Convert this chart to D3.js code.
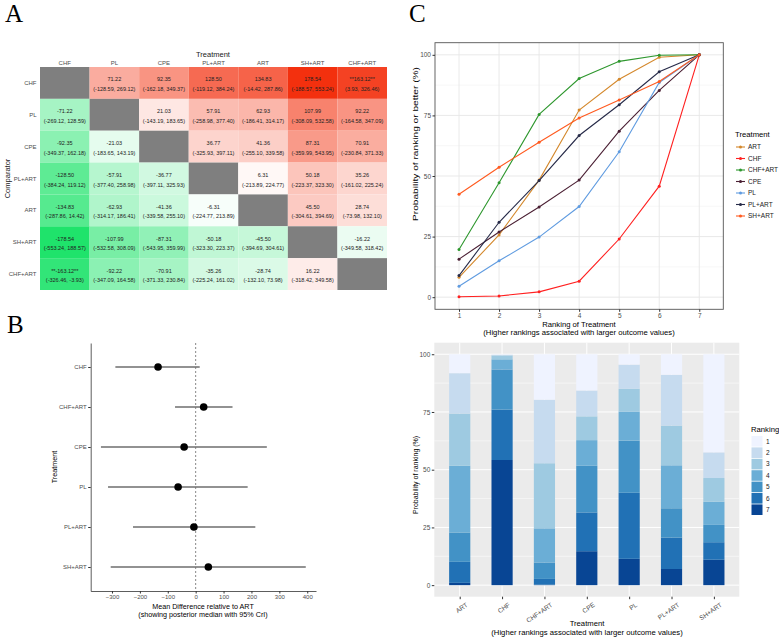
<!DOCTYPE html>
<html>
<head>
<meta charset="utf-8">
<script src="https://cdn.jsdelivr.net/npm/d3@7"></script>
<style>
  body { margin: 0; background: #fff; }
  text { font-family: "Liberation Sans", Arial, sans-serif; }
</style>
</head>
<body>
<svg id="fig" width="779" height="639"></svg>
<script>
// ---- Panel A: league table (row = comparator, column = treatment)
const trtA = ["CHF", "PL", "CPE", "PL+ART", "ART", "SH+ART", "CHF+ART"];
const mdMean = [
  [null, 71.22, 92.35, 128.50, 134.83, 178.54, 163.12],
  [-71.22, null, 21.03, 57.91, 62.93, 107.99, 92.22],
  [-92.35, -21.03, null, 36.77, 41.36, 87.31, 70.91],
  [-128.50, -57.91, -36.77, null, 6.31, 50.18, 35.26],
  [-134.83, -62.93, -41.36, -6.31, null, 45.50, 28.74],
  [-178.54, -107.99, -87.31, -50.18, -45.50, null, -16.22],
  [-163.12, -92.22, -70.91, -35.26, -28.74, 16.22, null]
];
const mdLow = [
  [null, -128.59, -162.18, -119.12, -14.42, -188.57, 3.93],
  [-269.12, null, -143.19, -258.98, -186.41, -308.09, -164.58],
  [-349.37, -183.65, null, -325.93, -255.10, -359.99, -230.84],
  [-384.24, -377.40, -397.11, null, -213.89, -223.37, -161.02],
  [-287.86, -314.17, -339.58, -224.77, null, -304.61, -73.98],
  [-553.24, -532.58, -543.95, -323.30, -394.69, null, -349.58],
  [-326.46, -347.09, -371.33, -225.24, -132.10, -318.42, null]
];
const mdHigh = [
  [null, 269.12, 349.37, 384.24, 287.86, 553.24, 326.46],
  [128.59, null, 183.65, 377.40, 314.17, 532.58, 347.09],
  [162.18, 143.19, null, 397.11, 339.58, 543.95, 371.33],
  [119.12, 258.98, 325.93, null, 224.77, 323.30, 225.24],
  [14.42, 186.41, 255.10, 213.89, null, 394.69, 132.10],
  [188.57, 308.09, 359.99, 223.37, 304.61, null, 318.42],
  [-3.93, 164.58, 230.84, 161.02, 73.98, 349.58, null]
];

// ---- Panel B: forest plot relative to ART
const forestTrt = ["CHF", "CHF+ART", "CPE", "PL", "PL+ART", "SH+ART"];
const forestMed = [-134.83, 28.74, -41.36, -62.93, -6.31, 45.50];
const forestLow = [-287.86, -73.98, -339.58, -314.17, -224.77, -304.61];
const forestHigh = [14.42, 132.10, 255.10, 186.41, 213.89, 394.69];

// ---- Panel C: rank probabilities (%) for ranks 1..7
const rankTrt = ["ART", "CHF", "CHF+ART", "CPE", "PL", "PL+ART", "SH+ART"];
const ranks = [1, 2, 3, 4, 5, 6, 7];
const probART = [8.2, 17.5, 22.6, 28.9, 12.7, 9.1, 1.0];
const probCHF = [0.2, 0.3, 1.7, 4.4, 17.4, 21.8, 54.2];
const probCHFART = [19.7, 27.5, 28.2, 14.8, 7.1, 2.5, 0.2];
const probCPE = [15.7, 11.2, 10.3, 11.1, 20.2, 16.8, 14.7];
const probPL = [4.5, 10.5, 9.8, 12.6, 22.6, 28.6, 11.4];
const probPLART = [8.9, 22.0, 17.2, 18.6, 12.7, 13.6, 7.0];
const probSHART = [42.5, 11.1, 10.3, 10.0, 7.5, 7.6, 11.0];
const yTicksPct = [0, 25, 50, 75, 100];

const trtColors = ["#d4882c", "#ff2020", "#2e972e", "#4a1f33", "#5f9be0", "#262a48", "#ff5a1f"];
const rankColors = ["#eff3ff", "#c6dbef", "#9ecae1", "#6baed6", "#4292c6", "#2171b5", "#084594"];

const probs = [probART, probCHF, probCHFART, probCPE, probPL, probPLART, probSHART];

const svg = d3.select("#fig");
const grey = "#4d4d4d";

// panel letters
[["A", 5, 22], ["B", 7, 333], ["C", 409, 22]].forEach(([t, x, y]) => {
  svg.append("text").attr("x", x).attr("y", y).text(t)
    .style("font-family", "'Liberation Serif', 'Times New Roman', serif")
    .style("font-size", "25px");
});

// ================= Panel A =================
const ax = d3.scaleBand().domain(trtA).range([40, 387]);
const ay = d3.scaleBand().domain(trtA).range([67, 290]);
const heat = d3.scaleLinear().domain([-178.54, 0, 178.54])
  .range(["#1fe36b", "#ffffff", "#f3300e"]);

const cells = [];
trtA.forEach((r, i) => trtA.forEach((c, j) => {
  cells.push({ r, c, m: mdMean[i][j], lo: mdLow[i][j], hi: mdHigh[i][j] });
}));

const gA = svg.append("g");
gA.selectAll("rect").data(cells).enter().append("rect")
  .attr("x", d => ax(d.c))
  .attr("y", d => ay(d.r))
  .attr("width", ax.bandwidth())
  .attr("height", ay.bandwidth())
  .attr("fill", d => d.m === null ? "#7f7f7f" : heat(d.m));

const txt = cells.filter(d => d.m !== null);
gA.selectAll("text.m").data(txt).enter().append("text")
  .attr("class", "m")
  .attr("x", d => ax(d.c) + ax.bandwidth() / 2)
  .attr("y", d => ay(d.r) + ay.bandwidth() / 2 - 1.5)
  .attr("text-anchor", "middle")
  .style("font-size", "5.5px").attr("fill", "#222")
  .text(d => {
    const s = d.m.toFixed(2);
    return (d.lo > 0 || d.hi < 0) ? "**" + s + "**" : s;
  });
gA.selectAll("text.ci").data(txt).enter().append("text")
  .attr("class", "ci")
  .attr("x", d => ax(d.c) + ax.bandwidth() / 2)
  .attr("y", d => ay(d.r) + ay.bandwidth() / 2 + 8)
  .attr("text-anchor", "middle")
  .style("font-size", "5.5px").attr("fill", "#222")
  .text(d => `(${d.lo.toFixed(2)}, ${d.hi.toFixed(2)})`);

// column headers
gA.selectAll("text.col").data(trtA).enter().append("text")
  .attr("x", d => ax(d) + ax.bandwidth() / 2)
  .attr("y", 64.5)
  .attr("text-anchor", "middle")
  .style("font-size", "6px").attr("fill", grey)
  .text(d => d);
// row labels
gA.selectAll("text.row").data(trtA).enter().append("text")
  .attr("x", 36.5)
  .attr("y", d => ay(d) + ay.bandwidth() / 2 + 2)
  .attr("text-anchor", "end")
  .style("font-size", "6px").attr("fill", grey)
  .text(d => d);
gA.append("text").attr("x", 213).attr("y", 57).attr("text-anchor", "middle")
  .style("font-size", "7.5px").attr("fill", "#222").text("Treatment");
gA.append("text").attr("transform", "translate(10,178.5) rotate(-90)")
  .attr("text-anchor", "middle")
  .style("font-size", "7.5px").attr("fill", "#222").text("Comparator");

// ================= Panel B =================
const bMin = d3.min(forestLow), bMax = d3.max(forestHigh);
const bPad = (bMax - bMin) * 0.05;
const bx = d3.scaleLinear().domain([bMin - bPad, bMax + bPad]).range([90.7, 316]);
const by = d3.scalePoint().domain(forestTrt).range([343, 591]).padding(0.6);

const gB = svg.append("g");
const forest = forestTrt.map((t, i) => ({ t, med: forestMed[i], lo: forestLow[i], hi: forestHigh[i] }));

gB.append("line")
  .attr("x1", bx(0)).attr("x2", bx(0)).attr("y1", 343).attr("y2", 591)
  .attr("stroke", "#888").attr("stroke-width", 1).attr("stroke-dasharray", "2,2");

gB.selectAll("line.ci").data(forest).enter().append("line")
  .attr("x1", d => bx(d.lo)).attr("x2", d => bx(d.hi))
  .attr("y1", d => by(d.t)).attr("y2", d => by(d.t))
  .attr("stroke", "#6e6e6e").attr("stroke-width", 1.3);
gB.selectAll("circle").data(forest).enter().append("circle")
  .attr("cx", d => bx(d.med)).attr("cy", d => by(d.t)).attr("r", 3.8)
  .attr("fill", "#000");

const bxAxis = gB.append("g").attr("transform", "translate(0,591)")
  .call(d3.axisBottom(bx).tickValues(d3.range(-300, 401, 100)).tickSize(2.5).tickPadding(1.5).tickSizeOuter(0));
const byAxis = gB.append("g").attr("transform", "translate(90.7,0)")
  .call(d3.axisLeft(by).tickSize(2.5).tickPadding(1.5).tickSizeOuter(0));
[bxAxis, byAxis].forEach(a => {
  a.select(".domain").attr("stroke", "#333").attr("stroke-width", 0.8);
  a.selectAll(".tick line").attr("stroke", "#333");
  a.selectAll(".tick text").style("font-size", "6px").attr("fill", grey)
    .style("font-family", "'Liberation Sans', Arial, sans-serif");
});

gB.append("text").attr("x", 203).attr("y", 608.5).attr("text-anchor", "middle")
  .style("font-size", "7.2px").text("Mean Difference relative to ART");
gB.append("text").attr("x", 203).attr("y", 617).attr("text-anchor", "middle")
  .style("font-size", "7.2px").text("(showing posterior median with 95% CrI)");
gB.append("text").attr("transform", "translate(57,467) rotate(-90)")
  .attr("text-anchor", "middle").style("font-size", "7.2px").text("Treatment");

// ================= Panel C (top): cumulative ranking =================
const cx = d3.scaleLinear().domain([0.4, 7.6]).range([435, 723.3]);
const cy = d3.scaleLinear().domain([-5, 105]).range([309.3, 42.7]);
const gC = svg.append("g");

gC.append("rect").attr("x", 435).attr("y", 42.7).attr("width", 288.3).attr("height", 266.6)
  .attr("fill", "#fff");
// minor grid
gC.selectAll("line.minor").data([12.5, 37.5, 62.5, 87.5]).enter().append("line")
  .attr("x1", 435).attr("x2", 723.3).attr("y1", d => cy(d)).attr("y2", d => cy(d))
  .attr("stroke", "#f2f2f2").attr("stroke-width", 0.6);
gC.selectAll("line.hmaj").data(yTicksPct).enter().append("line")
  .attr("x1", 435).attr("x2", 723.3).attr("y1", d => cy(d)).attr("y2", d => cy(d))
  .attr("stroke", "#e6e6e6").attr("stroke-width", 0.9);
gC.selectAll("line.vmaj").data(ranks).enter().append("line")
  .attr("y1", 42.7).attr("y2", 309.3).attr("x1", d => cx(d)).attr("x2", d => cx(d))
  .attr("stroke", "#e6e6e6").attr("stroke-width", 0.9);

const cumSeries = rankTrt.map((t, i) => ({
  t, color: trtColors[i],
  vals: Array.from(d3.cumsum(probs[i])).map((v, k) => ({ r: ranks[k], v: Math.min(v, 100) }))
}));
const line = d3.line().x(d => cx(d.r)).y(d => cy(d.v));
const sg = gC.selectAll("g.series").data(cumSeries).enter().append("g");
sg.append("path").attr("d", d => line(d.vals)).attr("fill", "none")
  .attr("stroke", d => d.color).attr("stroke-width", 1.1);
sg.selectAll("circle").data(d => d.vals.map(v => ({ ...v, color: d.color }))).enter()
  .append("circle").attr("cx", d => cx(d.r)).attr("cy", d => cy(d.v)).attr("r", 1.5)
  .attr("fill", d => d.color);

gC.append("rect").attr("x", 435).attr("y", 42.7).attr("width", 288.3).attr("height", 266.6)
  .attr("fill", "none").attr("stroke", "#555").attr("stroke-width", 0.9);

const cxAxis = gC.append("g").attr("transform", "translate(0,309.3)")
  .call(d3.axisBottom(cx).tickValues(ranks).tickSize(2.5).tickPadding(1.5).tickSizeOuter(0));
const cyAxis = gC.append("g").attr("transform", "translate(435,0)")
  .call(d3.axisLeft(cy).tickValues(yTicksPct).tickSize(2.5).tickPadding(1.5).tickSizeOuter(0));
[cxAxis, cyAxis].forEach(a => {
  a.select(".domain").remove();
  a.selectAll(".tick line").attr("stroke", "#333");
  a.selectAll(".tick text").style("font-size", "6.5px").attr("fill", grey)
    .style("font-family", "'Liberation Sans', Arial, sans-serif");
});

gC.append("text").attr("x", 579).attr("y", 326.5).attr("text-anchor", "middle")
  .style("font-size", "7.7px").text("Ranking of Treatment");
gC.append("text").attr("x", 579).attr("y", 335.3).attr("text-anchor", "middle")
  .style("font-size", "7.7px").text("(Higher rankings associated with larger outcome values)");
gC.append("text").attr("transform", "translate(418,144) rotate(-90)")
  .attr("text-anchor", "middle").style("font-size", "8px")
  .attr("textLength", 154).attr("lengthAdjust", "spacingAndGlyphs")
  .text("Probability of ranking or better (%)");

// legend
const lg = gC.append("g");
lg.append("text").attr("x", 735).attr("y", 137).style("font-size", "7.7px").text("Treatment");
cumSeries.forEach((s, i) => {
  const y = 147 + i * 11.5;
  lg.append("line").attr("x1", 736).attr("x2", 745).attr("y1", y).attr("y2", y)
    .attr("stroke", s.color).attr("stroke-width", 1.1);
  lg.append("circle").attr("cx", 740.5).attr("cy", y).attr("r", 1.5).attr("fill", s.color);
  lg.append("text").attr("x", 748).attr("y", y + 2.3).style("font-size", "6.5px")
    .attr("fill", "#222").text(s.t);
});

// ================= Panel C (bottom): rank probability bars =================
const dx = d3.scalePoint().domain(rankTrt).range([434.3, 739.3]).padding(0.6);
const dy = d3.scaleLinear().domain([-5, 105]).range([596.7, 342.7]);
const gD = svg.append("g");
gD.append("rect").attr("x", 434.3).attr("y", 342.7).attr("width", 305).attr("height", 254)
  .attr("fill", "#ebebeb");
gD.selectAll("line.minor").data([12.5, 37.5, 62.5, 87.5]).enter().append("line")
  .attr("x1", 434.3).attr("x2", 739.3).attr("y1", d => dy(d)).attr("y2", d => dy(d))
  .attr("stroke", "#fff").attr("stroke-width", 0.5);
gD.selectAll("line.hmaj").data(yTicksPct).enter().append("line")
  .attr("x1", 434.3).attr("x2", 739.3).attr("y1", d => dy(d)).attr("y2", d => dy(d))
  .attr("stroke", "#fff").attr("stroke-width", 1);
gD.selectAll("line.vmaj").data(rankTrt).enter().append("line")
  .attr("y1", 342.7).attr("y2", 596.7).attr("x1", d => dx(d)).attr("x2", d => dx(d))
  .attr("stroke", "#fff").attr("stroke-width", 1);

const barRows = rankTrt.map((t, i) => {
  const o = { t };
  ranks.forEach((r, k) => { o[r] = probs[i][k]; });
  return o;
});
const stack = d3.stack().keys([7, 6, 5, 4, 3, 2, 1])(barRows);
const bw = dx.step() * 0.5;
gD.selectAll("g.layer").data(stack).enter().append("g")
  .attr("fill", d => rankColors[d.key - 1])
  .selectAll("rect").data(d => d).enter().append("rect")
  .attr("x", d => dx(d.data.t) - bw / 2)
  .attr("width", bw)
  .attr("y", d => dy(Math.min(d[1], 100)))
  .attr("height", d => dy(d[0]) - dy(Math.min(d[1], 100)));

const dxAxis = gD.append("g").attr("transform", "translate(0,596.7)")
  .call(d3.axisBottom(dx).tickSize(2.5).tickSizeOuter(0));
const dyAxis = gD.append("g").attr("transform", "translate(434.3,0)")
  .call(d3.axisLeft(dy).tickValues(yTicksPct).tickSize(2.5).tickPadding(1.5).tickSizeOuter(0));
[dxAxis, dyAxis].forEach(a => {
  a.select(".domain").remove();
  a.selectAll(".tick line").attr("stroke", "#333");
  a.selectAll(".tick text").style("font-size", "6.5px").attr("fill", grey)
    .style("font-family", "'Liberation Sans', Arial, sans-serif");
});
dxAxis.selectAll(".tick text")
  .attr("text-anchor", "end")
  .attr("transform", "translate(3,2) rotate(-35)")
  .attr("dy", "0.5em");

gD.append("text").attr("x", 587).attr("y", 626).attr("text-anchor", "middle")
  .style("font-size", "7.7px").text("Treatment");
gD.append("text").attr("x", 587).attr("y", 635).attr("text-anchor", "middle")
  .style("font-size", "7.7px").text("(Higher rankings associated with larger outcome values)");
gD.append("text").attr("transform", "translate(418,475) rotate(-90)")
  .attr("text-anchor", "middle").style("font-size", "7px")
  .text("Probability of ranking (%)");

const rl = gD.append("g");
rl.append("text").attr("x", 751).attr("y", 432).style("font-size", "7.7px").text("Ranking");
ranks.forEach((r, i) => {
  const y = 436 + i * 11.4;
  rl.append("rect").attr("x", 751.5).attr("y", y).attr("width", 11).attr("height", 10.6)
    .attr("fill", rankColors[i]);
  rl.append("text").attr("x", 766).attr("y", y + 7.6).style("font-size", "6.5px")
    .attr("fill", "#222").text(r);
});
</script>
</body>
</html>
